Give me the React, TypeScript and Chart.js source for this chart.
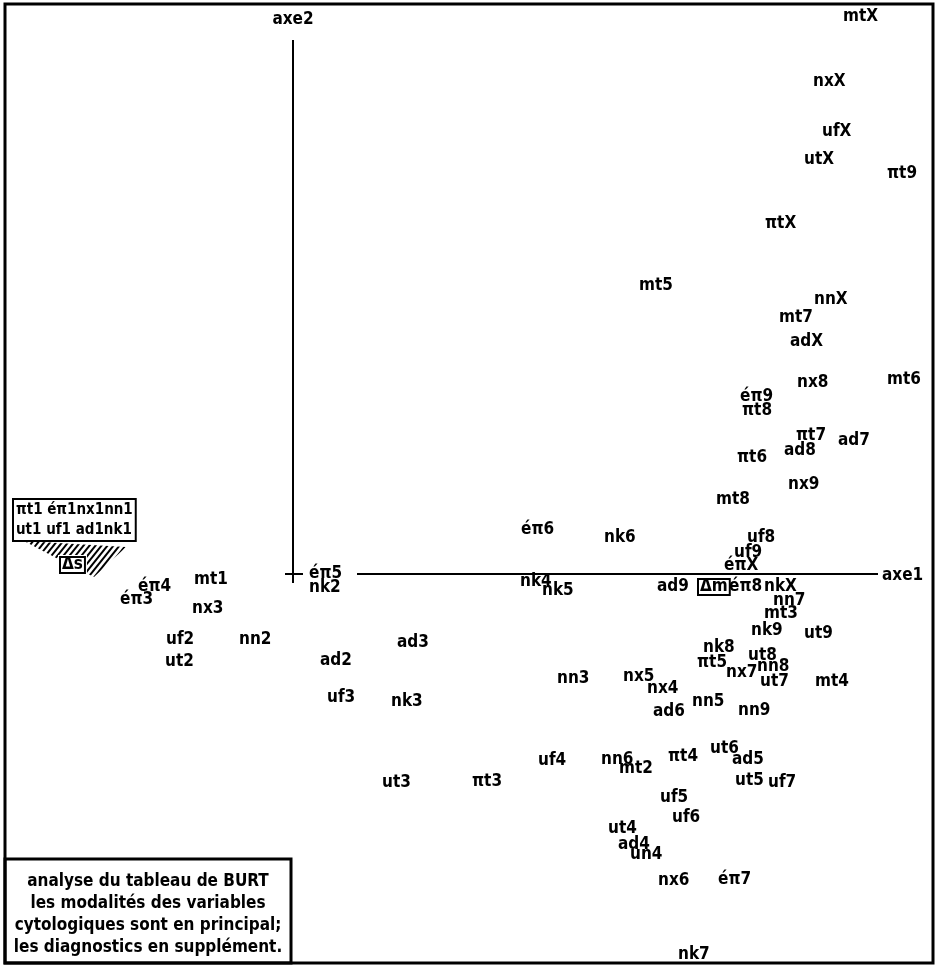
import React, { useEffect, useRef } from "react";
import { Chart, registerables } from "chart.js";

Chart.register(...registerables);

// principal modalities: label, coordinate on axe1, coordinate on axe2
const labels = [
  "mtX", "nxX", "ufX", "utX", "πt9", "πtX", "mt5", "nnX", "mt7", "adX",
  "mt6", "nx8", "éπ9", "πt8", "πt7", "ad7", "ad8", "πt6", "nx9", "mt8",
  "éπ6", "nk6", "uf8", "uf9", "éπX", "nk4", "nk5", "ad9", "éπ8", "nkX",
  "nn7", "mt3", "nk9", "ut9", "nk8", "ut8", "πt5", "nn8", "nx7", "ut7",
  "mt4", "nn3", "nx5", "nx4", "nn5", "ad6", "nn9", "uf4", "nn6", "mt2",
  "πt4", "ut6", "ad5", "ut5", "uf7", "uf5", "uf6", "ut4", "ad4", "un4",
  "nx6", "éπ7", "nk7", "éπ4", "mt1", "éπ3", "nx3", "uf2", "nn2", "ut2",
  "éπ5", "nk2", "ad2", "ad3", "uf3", "nk3", "ut3", "πt3",
];
const axe1 = [
  5.50, 5.20, 5.29, 5.11, 5.94, 4.72, 3.46, 5.21, 4.86, 4.97,
  5.94, 5.04, 4.47, 4.49, 5.03, 5.45, 4.91, 4.44, 4.95, 4.23,
  2.28, 3.11, 4.54, 4.41, 4.31, 2.27, 2.49, 3.64, 4.36, 4.71,
  4.80, 4.71, 4.58, 5.11, 4.10, 4.55, 4.04, 4.64, 4.33, 4.67,
  5.22, 2.64, 3.30, 3.54, 3.99, 3.60, 4.45, 2.45, 3.08, 3.26,
  3.75, 4.17, 4.39, 4.42, 4.75, 3.67, 3.79, 3.15, 3.25, 3.37,
  3.65, 4.25, 3.85, -1.55, -0.99, -1.73, -1.01, -1.27, -0.54, -1.28,
  0.16, 0.16, 0.27, 1.04, 0.34, 0.98, 0.89, 1.79,
];
const axe2 = [
  5.57, 4.92, 4.42, 4.14, 4.00, 3.50, 2.88, 2.74, 2.56, 2.32,
  1.94, 1.91, 1.77, 1.63, 1.38, 1.33, 1.23, 1.16, 0.89, 0.74,
  0.44, 0.36, 0.36, 0.21, 0.08, -0.08, -0.17, -0.13, -0.13, -0.13,
  -0.27, -0.40, -0.57, -0.60, -0.74, -0.82, -0.89, -0.93, -0.99, -1.08,
  -1.08, -1.05, -1.03, -1.15, -1.28, -1.38, -1.37, -1.87, -1.86, -1.95,
  -1.83, -1.75, -1.86, -2.07, -2.09, -2.24, -2.44, -2.55, -2.71, -2.81,
  -3.07, -3.06, -3.81, -0.13, -0.06, -0.26, -0.35, -0.66, -0.66, -0.88,
  0.00, -0.14, -0.87, -0.69, -1.24, -1.28, -2.09, -2.08,
];

// supplementary diagnostics
const suppLabels = ["Δm", "Δs"];
const suppAxe1 = [4.07, -2.31];
const suppAxe2 = [-0.13, 0.09];

// modalities "1" grouped at the same place
const groupLines = ["πt1 éπ1nx1nn1", "ut1 uf1 ad1nk1"];
const groupAxe1 = [-2.77];
const groupAxe2 = [0.54];

const axisNames = ["axe1", "axe2"];
const noteLines = [
  "analyse du tableau de BURT",
  "les modalités des variables",
  "cytologiques sont en principal;",
  "les diagnostics en supplément.",
];

const FAMILY = '"DejaVu Sans Condensed", "DejaVu Sans", sans-serif';
const FONT = "bold 17px " + FAMILY;

const drawPlugin = {
  id: "burtDraw",
  afterDatasetsDraw(chart: any) {
    const ctx = chart.ctx as CanvasRenderingContext2D;
    const ca = chart.chartArea;
    const sx = chart.scales.x;
    const sy = chart.scales.y;
    ctx.save();
    ctx.strokeStyle = "#000";
    ctx.fillStyle = "#000";

    // outer frame
    ctx.lineWidth = 3;
    ctx.strokeRect(ca.left, ca.top, ca.right - ca.left, ca.bottom - ca.top);

    const x0 = sx.getPixelForValue(0);
    const y0 = sy.getPixelForValue(0);

    ctx.lineWidth = 2;
    // vertical axis
    ctx.beginPath();
    ctx.moveTo(x0, sy.getPixelForValue(5.34));
    ctx.lineTo(x0, sy.getPixelForValue(-0.09));
    ctx.stroke();
    // cross at the origin
    ctx.beginPath();
    ctx.moveTo(sx.getPixelForValue(-0.08), y0);
    ctx.lineTo(sx.getPixelForValue(0.10), y0);
    ctx.stroke();
    // horizontal axis
    ctx.beginPath();
    ctx.moveTo(sx.getPixelForValue(0.64), y0);
    ctx.lineTo(sx.getPixelForValue(5.85), y0);
    ctx.stroke();

    ctx.font = FONT;
    ctx.textBaseline = "middle";
    ctx.textAlign = "left";
    ctx.fillText(axisNames[0], sx.getPixelForValue(5.89), sy.getPixelForValue(-0.02));
    ctx.textAlign = "center";
    ctx.fillText(axisNames[1], x0, sy.getPixelForValue(5.54));
    ctx.textAlign = "left";

    // principal labels
    const meta = chart.getDatasetMeta(0);
    meta.data.forEach((pt: any, i: number) => {
      ctx.fillText(labels[i], pt.x, pt.y);
    });

    // supplementary (boxed)
    const smeta = chart.getDatasetMeta(1);
    smeta.data.forEach((pt: any, i: number) => {
      const w = ctx.measureText(suppLabels[i]).width;
      if (i === 1) {
        // hatched zone around Δs
        const poly = [
          [pt.x - 38, pt.y - 24],
          [pt.x + 64, pt.y - 18],
          [pt.x + 32, pt.y + 12],
          [pt.x - 2, pt.y - 5],
        ];
        ctx.save();
        ctx.beginPath();
        ctx.moveTo(poly[0][0], poly[0][1]);
        for (let k = 1; k < poly.length; k++) ctx.lineTo(poly[k][0], poly[k][1]);
        ctx.closePath();
        ctx.clip();
        ctx.lineWidth = 2;
        for (let k = -80; k < 120; k += 6) {
          ctx.beginPath();
          ctx.moveTo(pt.x + k - 20, pt.y + 20);
          ctx.lineTo(pt.x + k + 20, pt.y - 30);
          ctx.stroke();
        }
        ctx.restore();
        ctx.fillStyle = "#fff";
        ctx.fillRect(pt.x - 4, pt.y - 10, w + 8, 20);
        ctx.fillStyle = "#000";
      }
      ctx.lineWidth = 2;
      ctx.strokeRect(pt.x - 2, pt.y - 8, w + 4, 16);
      ctx.fillText(suppLabels[i], pt.x, pt.y);
    });

    // grouped modalities box
    const gmeta = chart.getDatasetMeta(2);
    gmeta.data.forEach((pt: any) => {
      ctx.font = "bold 15px " + FAMILY;
      const w = Math.max(...groupLines.map((s) => ctx.measureText(s).width));
      ctx.lineWidth = 2;
      ctx.strokeRect(pt.x - 3, pt.y - 21, w + 6, 42);
      ctx.fillText(groupLines[0], pt.x, pt.y - 10);
      ctx.fillText(groupLines[1], pt.x, pt.y + 10);
    });

    // note box
    ctx.font = FONT;
    ctx.lineWidth = 3;
    ctx.strokeRect(ca.left, 859, 291 - ca.left, ca.bottom - 859);
    ctx.textAlign = "center";
    const cx = (ca.left + 291) / 2;
    noteLines.forEach((s, i) => {
      ctx.fillText(s, cx, 882 + i * 22);
    });

    ctx.restore();
  },
};

export default function App() {
  const ref = useRef<HTMLCanvasElement>(null);
  useEffect(() => {
    document.body.style.margin = "0";
    const canvas = ref.current!;
    const chart = new Chart(canvas, {
      type: "scatter",
      data: {
        datasets: [
          {
            label: "principal",
            data: axe1.map((x, i) => ({ x, y: axe2[i] })),
            pointRadius: 0,
          },
          {
            label: "supplément",
            data: suppAxe1.map((x, i) => ({ x, y: suppAxe2[i] })),
            pointRadius: 0,
          },
          {
            label: "groupe",
            data: groupAxe1.map((x, i) => ({ x, y: groupAxe2[i] })),
            pointRadius: 0,
          },
        ],
      },
      options: {
        animation: false,
        responsive: false,
        layout: { padding: { left: 5, top: 4, right: 6, bottom: 4 } },
        scales: {
          x: { type: "linear", min: -2.88, max: 6.4, display: false },
          y: { type: "linear", min: -3.89, max: 5.7, display: false },
        },
        plugins: {
          legend: { display: false },
          tooltip: { enabled: false },
        },
      },
      plugins: [drawPlugin],
    });
    return () => chart.destroy();
  }, []);
  return (
    <div style={{ position: "absolute", left: 0, top: 0, width: 939, height: 967, background: "#fff" }}>
      <canvas ref={ref} width={939} height={967} style={{ width: 939, height: 967, display: "block" }} />
    </div>
  );
}
